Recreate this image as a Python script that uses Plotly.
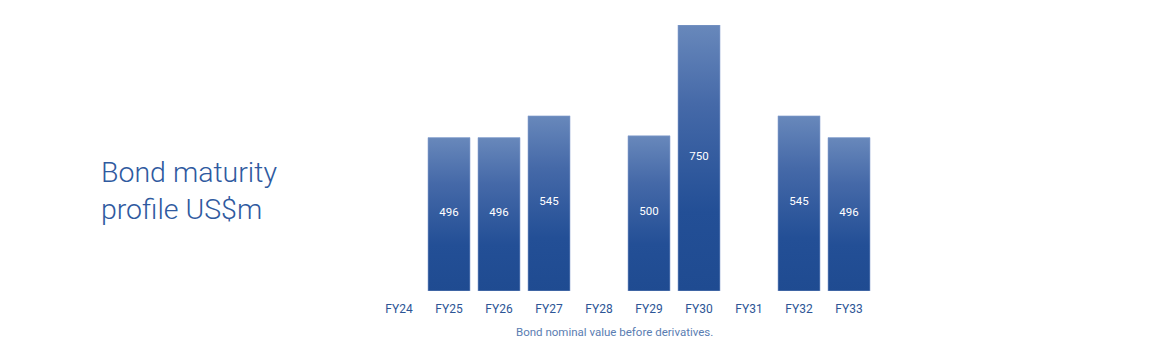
import plotly.graph_objects as go

categories = ["FY24", "FY25", "FY26", "FY27", "FY28", "FY29", "FY30", "FY31", "FY32", "FY33"]
values = [None, 496, 496, 545, None, 500, 750, None, 545, 496]
footnote = "Bond nominal value before derivatives."
title_text = "Bond maturity<br>profile US$m"

BASE = 150
HALF = 0.42
TEXT_BLUE = "#2c5596"

fig = go.Figure()
xs = list(range(len(categories)))
for i, v in zip(xs, values):
    if v is None:
        continue
    fig.add_trace(go.Scatter(
        x=[i - HALF, i + HALF, i + HALF, i - HALF, i - HALF],
        y=[BASE, BASE, v, v, BASE],
        mode="lines", line=dict(width=1, color="rgba(140,165,210,0.6)"), fill="toself",
        fillgradient=dict(type="vertical",
                          colorscale=[[0, "#1f4b91"], [0.3, "#234f96"], [0.7, "#4569a8"], [1, "#6888bb"]]),
        hoverinfo="skip", showlegend=False,
    ))

lab_x = [i for i, v in zip(xs, values) if v is not None]
lab_y = [(BASE + v) / 2 + 3 for v in values if v is not None]
lab_t = [str(v) for v in values if v is not None]
fig.add_trace(go.Scatter(
    x=lab_x, y=lab_y, text=lab_t, mode="text",
    textfont=dict(color="white", size=11.5, family="Roboto"),
    hoverinfo="skip", showlegend=False,
))

fig.update_layout(
    width=1141, height=353,
    margin=dict(l=366, r=275, t=17, b=70),
    paper_bgcolor="white", plot_bgcolor="white",
    xaxis=dict(range=[-0.5, len(categories) - 0.5], tickvals=xs, ticktext=categories,
               showgrid=False, zeroline=False, showline=False, ticks="",
               ticklabelstandoff=9,
               tickfont=dict(color=TEXT_BLUE, size=12, family="Roboto"), fixedrange=True),
    yaxis=dict(range=[BASE, 750], visible=False, fixedrange=True),
    annotations=[
        dict(text=title_text, xref="paper", yref="paper", x=-0.551, y=0.375,
             xanchor="left", yanchor="middle", align="left", showarrow=False,
             font=dict(size=28.5, color="#2f5aa0", family="Roboto Light, Roboto")),
        dict(text=footnote, xref="paper", yref="paper", x=0.682, y=-0.156,
             xanchor="right", yanchor="middle", showarrow=False,
             font=dict(size=11.5, color="#5a7db2", family="Roboto")),
    ],
)

fig.write_html("out.html")
